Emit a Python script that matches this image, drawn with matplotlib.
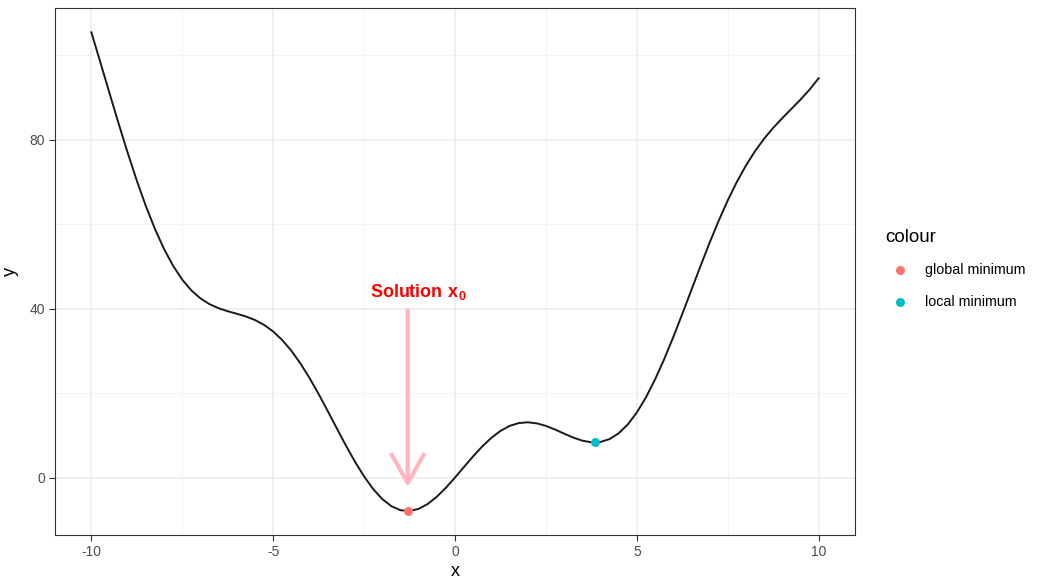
import matplotlib
matplotlib.use("Agg")
import matplotlib.pyplot as plt
from matplotlib.lines import Line2D

plt.rcParams['font.family'] = ['Liberation Sans', 'DejaVu Sans']
plt.rcParams['mathtext.fontset'] = 'custom'
plt.rcParams['mathtext.rm'] = 'Liberation Sans'
plt.rcParams['mathtext.bf'] = 'Liberation Sans:bold'

# ---- data ----
x_vals = [-10.0, -9.75, -9.5, -9.25, -9.0, -8.75, -8.5, -8.25, -8.0, -7.75, -7.5, -7.25,
          -7.0, -6.75, -6.5, -6.25, -6.0, -5.75, -5.5, -5.25, -5.0, -4.75, -4.5, -4.25,
          -4.0, -3.75, -3.5, -3.25, -3.0, -2.75, -2.5, -2.25, -2.0, -1.75, -1.5, -1.25,
          -1.0, -0.75, -0.5, -0.25, 0.0, 0.25, 0.5, 0.75, 1.0, 1.25, 1.5, 1.75,
          2.0, 2.25, 2.5, 2.75, 3.0, 3.25, 3.5, 3.75, 4.0, 4.25, 4.5, 4.75,
          5.0, 5.25, 5.5, 5.75, 6.0, 6.25, 6.5, 6.75, 7.0, 7.25, 7.5, 7.75,
          8.0, 8.25, 8.5, 8.75, 9.0, 9.25, 9.5, 9.75, 10.0]
y_vals = [105.44, 98.26, 91.00, 83.82, 76.88, 70.31, 64.27, 58.84, 54.11, 50.12, 46.87, 44.33,
          42.43, 41.06, 40.10, 39.39, 38.79, 38.15, 37.31, 36.15, 34.59, 32.56, 30.03, 27.01,
          23.57, 19.78, 15.76, 11.64, 7.59, 3.75, 0.27, -2.72, -5.09, -6.78, -7.73, -7.93,
          -7.41, -6.25, -4.54, -2.41, 0.00, 2.54, 5.04, 7.38, 9.41, 11.05, 12.23, 12.90,
          13.09, 12.84, 12.24, 11.38, 10.41, 9.48, 8.74, 8.35, 8.43, 9.11, 10.48, 12.57,
          15.41, 18.97, 23.20, 27.98, 33.21, 38.73, 44.40, 50.06, 55.57, 60.79, 65.63, 70.01,
          73.89, 77.29, 80.24, 82.81, 85.12, 87.30, 89.50, 91.87, 94.56]

point_labels = ["global minimum", "local minimum"]
point_x = [-1.306, 3.837]
point_y = [-7.95, 8.32]
point_colors = ["#F8766D", "#00BFC4"]

x_ticks = [-10, -5, 0, 5, 10]
y_ticks = [0, 40, 80]
x_minor = [-7.5, -2.5, 2.5, 7.5]
y_minor = [20, 60, 100]

annot_text = r"$\mathbf{Solution\ x_0}$"
annot_x = -1.3
arrow_top = 40
arrow_tip = -2.3

# ---- figure ----
fig = plt.figure(figsize=(10.37, 5.8), dpi=100)
ax = fig.add_axes([55/1037, 45/580, 800/1037, 527/580])

ax.set_xlim(-11, 11)
ax.set_ylim(-13.6, 111.2)

for v in x_minor:
    ax.axvline(v, color="#F2F2F2", lw=0.6, zorder=0)
for v in y_minor:
    ax.axhline(v, color="#F2F2F2", lw=0.6, zorder=0)
for v in x_ticks:
    ax.axvline(v, color="#EBEBEB", lw=1.1, zorder=0)
for v in y_ticks:
    ax.axhline(v, color="#EBEBEB", lw=1.1, zorder=0)

ax.plot(x_vals, y_vals, color="#1a1a1a", lw=1.4, zorder=2)

for px, py, c in zip(point_x, point_y, point_colors):
    ax.scatter([px], [py], s=42, color=c, zorder=3, linewidths=0)

ax.annotate('', xy=(annot_x, arrow_tip), xytext=(annot_x, arrow_top),
            arrowprops=dict(arrowstyle='->,head_length=21.6,head_width=12.2',
                            mutation_scale=1, color='#FFB6C1', lw=3,
                            shrinkA=0, shrinkB=0, capstyle='butt'), zorder=2)
ax.text(annot_x + 0.3, arrow_top + 1.5, annot_text, color='red', fontsize=13,
        ha='center', va='bottom', zorder=4)

ax.set_xticks(x_ticks)
ax.set_yticks(y_ticks)
ax.set_xticklabels([str(t) for t in x_ticks])
ax.set_yticklabels([str(t) for t in y_ticks])
ax.tick_params(axis='both', length=4, width=0.8, color='#333333',
               labelcolor='#4D4D4D', labelsize=10, pad=3)
for s in ax.spines.values():
    s.set_color('#333333')
    s.set_linewidth(0.8)

ax.set_xlabel('x', fontsize=13, color='black', labelpad=3)
ax.set_ylabel('y', fontsize=13, color='black', labelpad=8)

# ---- legend ----
fig.text(885/1037, 1 - 237/580, 'colour', fontsize=13.5, ha='left', va='center', color='black')
leg_y = [270, 302]
for lab, c, ly in zip(point_labels, point_colors, leg_y):
    fig.add_artist(Line2D([900/1037], [1 - ly/580], marker='o', markersize=6.5,
                          color=c, markeredgewidth=0, linestyle='None'))
    fig.text(925/1037, 1 - ly/580, lab, fontsize=10.3, ha='left', va='center', color='black')

fig.savefig('out.png', dpi=100)
